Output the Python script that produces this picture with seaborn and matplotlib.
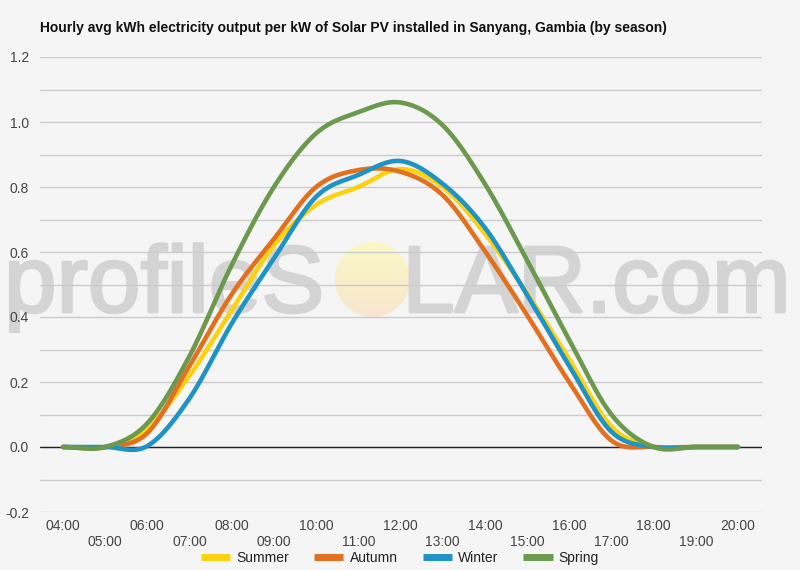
import numpy as np
import pandas as pd
import seaborn as sns
import matplotlib.pyplot as plt
import matplotlib.patheffects as pe
from matplotlib.patches import Circle

# hourly values (04:00 .. 20:00)
hours = list(range(4, 21))
hour_labels = ['%02d:00' % h for h in hours]
summer = [0, 0, 0.058, 0.22, 0.42, 0.62, 0.745, 0.80, 0.855, 0.80, 0.657, 0.473, 0.27, 0.063, 0, 0, 0]
autumn = [0, 0, 0.043, 0.25, 0.47, 0.64, 0.80, 0.852, 0.847, 0.775, 0.603, 0.406, 0.20, 0.02, 0, 0, 0]
winter = [0, 0, 0.003, 0.15, 0.38, 0.58, 0.77, 0.837, 0.88, 0.81, 0.675, 0.468, 0.25, 0.047, 0, 0, 0]
spring = [0, 0, 0.073, 0.28, 0.56, 0.80, 0.965, 1.03, 1.06, 0.99, 0.81, 0.575, 0.33, 0.10, 0, 0, 0]
seasons = ['Summer', 'Autumn', 'Winter', 'Spring']
colors = ['#fcd20f', '#e2701f', '#1f93c5', '#6b9a4f']


def smooth(x, y, n=24):
    '''curva suave entre puntos horarios (tipo catmull-rom)'''
    x = np.asarray(x, float); y = np.asarray(y, float)
    p = np.r_[y[0], y, y[-1]]
    xs, ys = [], []
    for i in range(len(y) - 1):
        t = np.linspace(0, 1, n, endpoint=False)
        m0 = (p[i + 2] - p[i]) / 2
        m1 = (p[i + 3] - p[i + 1]) / 2
        h = (2*t**3 - 3*t**2 + 1)*y[i] + (t**3 - 2*t**2 + t)*m0 \
            + (-2*t**3 + 3*t**2)*y[i + 1] + (t**3 - t**2)*m1
        xs.append(x[i] + t*(x[i + 1] - x[i])); ys.append(h)
    xs.append([x[-1]]); ys.append([y[-1]])
    return np.concatenate(xs), np.concatenate(ys)


frames = []
for name, vals in zip(seasons, [summer, autumn, winter, spring]):
    sx, sy = smooth(hours, vals)
    frames.append(pd.DataFrame({'hour': sx, 'kwh': sy, 'season': name}))
df = pd.concat(frames, ignore_index=True)

sns.set_theme(style='white')
plt.rcParams['font.family'] = ['Liberation Sans', 'DejaVu Sans']
bg = '#f5f5f5'

fig = plt.figure(figsize=(8, 5.7), dpi=100, facecolor=bg)

# fondo con marca de agua
axb = fig.add_axes([0, 0, 1, 1], zorder=0)
axb.set_xlim(0, 800); axb.set_ylim(570, 0); axb.axis('off')
axb.set_facecolor(bg)
wm = '#d4d4d4'
stroke = [pe.withStroke(linewidth=2, foreground=wm)]
axb.text(4, 312, 'profileS', fontsize=68, color=wm, ha='left', va='baseline', path_effects=stroke)
axb.text(791, 312, 'LAR.com', fontsize=68, color=wm, ha='right', va='baseline', path_effects=stroke)
grad = np.linspace(0, 1, 100)[:, None]
sun_cmap = sns.blend_palette(['#fbf8c4', '#f8e6d0'], as_cmap=True)
im = axb.imshow(grad, extent=[335, 410, 317, 242], cmap=sun_cmap, aspect='auto', zorder=1)
circ = Circle((372.5, 279.5), 37.5, transform=axb.transData, facecolor='none', edgecolor='none')
axb.add_patch(circ)
im.set_clip_path(circ)

ax = fig.add_axes([0.05, 1 - 512/570, 0.9525 - 0.05, (512 - 57)/570], zorder=1)
ax.patch.set_alpha(0)

for y in np.arange(-0.2, 1.21, 0.1):
    ax.axhline(y, color='#cccccc', lw=1, zorder=0)
ax.axhline(0, color='#222222', lw=1.0, zorder=1)

sns.lineplot(data=df, x='hour', y='kwh', hue='season', hue_order=seasons,
             palette=colors, linewidth=3.3, sort=False, estimator=None, ax=ax, zorder=3)

ax.set_xlim(3.455, 20.57)
ax.set_ylim(-0.2, 1.2)
ax.set_yticks(np.arange(-0.2, 1.21, 0.2))
ax.set_yticklabels(['%.1f' % v for v in np.arange(-0.2, 1.21, 0.2)])
ax.set_xticks(hours)
ax.set_xticklabels([lab if i % 2 == 0 else '\n' + lab for i, lab in enumerate(hour_labels)])
ax.tick_params(axis='both', length=0, labelsize=10, labelcolor='#444444')
ax.tick_params(axis='x', pad=5)
ax.tick_params(axis='y', pad=8)
for s in ax.spines.values():
    s.set_visible(False)
ax.set_xlabel(''); ax.set_ylabel('')

handles, labels = ax.get_legend_handles_labels()
for h in handles:
    h.set_linewidth(5)
    h.set_solid_capstyle('butt')
ax.legend(handles, labels, loc='center', bbox_to_anchor=(400/800, 1 - 558/570),
          bbox_transform=fig.transFigure, ncol=4, frameon=False, fontsize=10,
          handlelength=2.1, handletextpad=0.45, columnspacing=1.8, labelcolor='#222222')

fig.text(40/800, 1 - 28/570,
         'Hourly avg kWh electricity output per kW of Solar PV installed in Sanyang, Gambia (by season)',
         fontsize=10, fontweight='bold', color='#111111', ha='left', va='center')

fig.savefig('out.png', dpi=100, facecolor=bg)
